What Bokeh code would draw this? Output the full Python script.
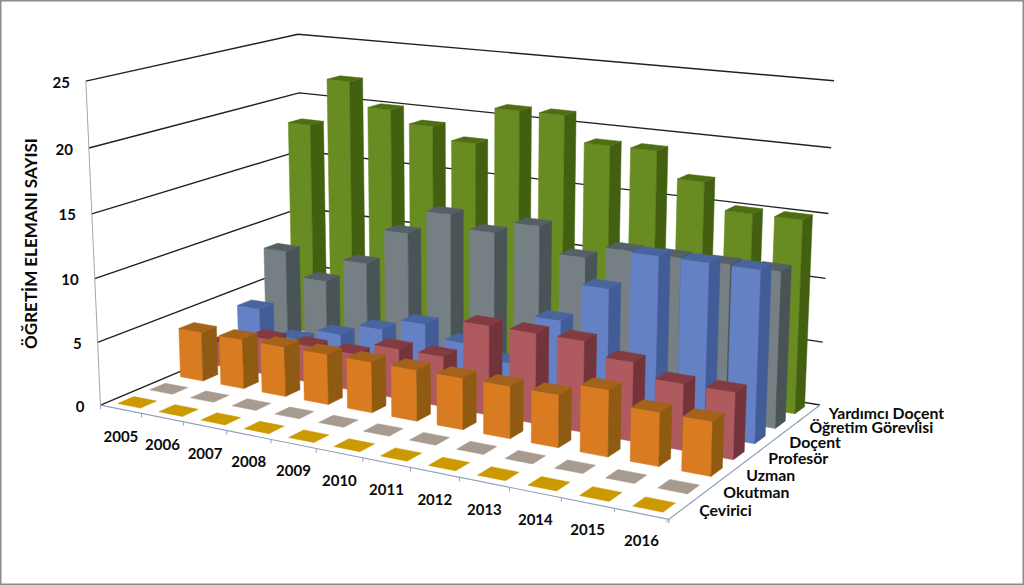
import numpy as np
from bokeh.plotting import figure
from bokeh.models import Range1d, ColumnDataSource
from bokeh.core.properties import value
from bokeh.embed import file_html
from bokeh.resources import INLINE

years = ["2005","2006","2007","2008","2009","2010","2011","2012","2013","2014","2015","2016"]
series_names = ["Çevirici","Okutman","Uzman","Profesör","Doçent","Öğretim Görevlisi","Yardımcı Doçent"]
cevirici = [0]*12
okutman = [0]*12
uzman = [4,4,4,4,4,4,4,4,4,5,4,4]
profesor = [2,3,3,3,4,4,7,7,7,6,5,5]
docent = [4,2,3,4,5,4,3,7,10,13,13,13]
ogretim = [8,6,8,11,13,12,13,11,12,12,12,12]
yardimci = [18,22,20,19,18,21,21,19,19,17,15,15]
all_series = [cevirici,okutman,uzman,profesor,docent,ogretim,yardimci]
y_ticks = [0,5,10,15,20,25]

front = ["#CC9900","#A79B90","#D97B20","#AE5A5E","#6481C6","#768084","#698C22"]
side = ["#CC9900","#A79B90","#8F5A12","#72343A","#425C98","#4A5356","#436010"]
top = ["#CC9900","#A79B90","#A5621A","#833A40","#48659F","#555F66","#4F6E12"]
BAR_W, BAR_D = 0.56, 0.5
ZMAX = 25.0

anchors = [((0,0,0),(100.5,404)),((1,0,0),(668,520)),((1,1,0),(820,403)),((0,1,0),(302,320)),
           ((0,0,1),(85,81)),((1,1,1),(833,81)),((0,1,1),(298,33)),((0,0,.2),(98,342)),
           ((0,0,.6),(91,213)),((0,0,.8),(88,147)),((1,1,.6),(828,213)),((1,1,.8),(831,147)),((0,1,.8),(299,93))]
A=[];b=[]
for (X,Y,Z),(u,v) in anchors:
    A.append([X,Y,Z,1,0,0,0,0,-u*X,-u*Y,-u*Z]);b.append(u)
    A.append([0,0,0,0,X,Y,Z,1,-v*X,-v*Y,-v*Z]);b.append(v)
h=np.linalg.lstsq(np.array(A,float),np.array(b,float),rcond=None)[0]
P=np.append(h,1.0).reshape(3,4)
def proj(x,y,z):
    q=P@np.array([x,y,z,1.0])
    return q[0]/q[2],q[1]/q[2]

p=figure(width=1024,height=585,x_range=Range1d(0,1024),y_range=Range1d(585,0),
         output_backend="svg",toolbar_location=None,min_border=0)
p.axis.visible=False
p.grid.visible=False
p.outline_line_color="#8C8C8C"
p.outline_line_width=2

gx=[];gy=[]
for t in y_ticks:
    z=t/ZMAX
    a,b_,c=proj(0,0,z),proj(0,1,z),proj(1,1,z)
    gx.append([a[0],b_[0],c[0]]);gy.append([a[1],b_[1],c[1]])
p.multi_line(gx,gy,line_color="#222222",line_width=1.4)
a,b_=proj(0,0,0),proj(0,0,1)
p.line([a[0],b_[0]],[a[1],b_[1]],line_color="#A6A6A6",line_width=1)

ax=[];ay=[]
a,b_,c=proj(0,0,0),proj(1,0,0),proj(1,1,0)
p.line([a[0],b_[0],c[0]],[a[1],b_[1],c[1]],line_color="#8FA2BC",line_width=1.2)
for i in range(13):
    u=proj(i/12,0,0); ax.append([u[0],u[0]]);ay.append([u[1],u[1]+4])
for j in range(8):
    u=proj(1,j/7,0); ax.append([u[0],u[0]-3]);ay.append([u[1],u[1]+3])
p.multi_line(ax,ay,line_color="#8FA2BC",line_width=1)

xs=[];ys=[];cols=[]
def face(pts,col):
    q=[proj(*k) for k in pts]
    xs.append([e[0] for e in q]);ys.append([e[1] for e in q]);cols.append(col)
for j in range(6,-1,-1):
    y0=(j+.5-BAR_D/2)/7;y1=(j+.5+BAR_D/2)/7
    for i in range(12):
        x0=(i+.5-BAR_W/2)/12;x1=(i+.5+BAR_W/2)/12
        z=all_series[j][i]/ZMAX
        if z>0:
            face([(x0,y0,0),(x1,y0,0),(x1,y0,z),(x0,y0,z)],front[j])
            face([(x1,y0,0),(x1,y1,0),(x1,y1,z),(x1,y0,z)],side[j])
        face([(x0,y0,z),(x1,y0,z),(x1,y1,z),(x0,y1,z)],top[j])
src=ColumnDataSource(dict(xs=xs,ys=ys,c=cols))
p.patches("xs","ys",source=src,fill_color="c",line_color="c",line_width=0.5)

font=value("Lato")
def labels(x,y,t,align,size="15px",angle=0):
    p.text(x,y,text=t,text_font=font,text_font_style="bold",text_font_size=size,text_color="#0A0A0A",
           text_align=align,text_baseline="middle",angle=angle)
u=[proj(0,0,t/ZMAX) for t in y_ticks]
labels([e[0]-16 for e in u],[e[1]+1 for e in u],[str(t) for t in y_ticks],"right")
u=[proj((i+.5)/12,0,0) for i in range(12)]
labels([e[0] for e in u],[e[1]+27 for e in u],years,"center")
u=[proj(1,(j+.5)/7,0) for j in range(7)]
labels([e[0]+18 for e in u],[e[1] for e in u],series_names,"left",size="15.8px")
labels([30],[243],["ÖĞRETİM ELEMANI SAYISI"],"center",size="17px",angle=np.pi/2)

open("out.html","w").write(file_html(p,INLINE))
